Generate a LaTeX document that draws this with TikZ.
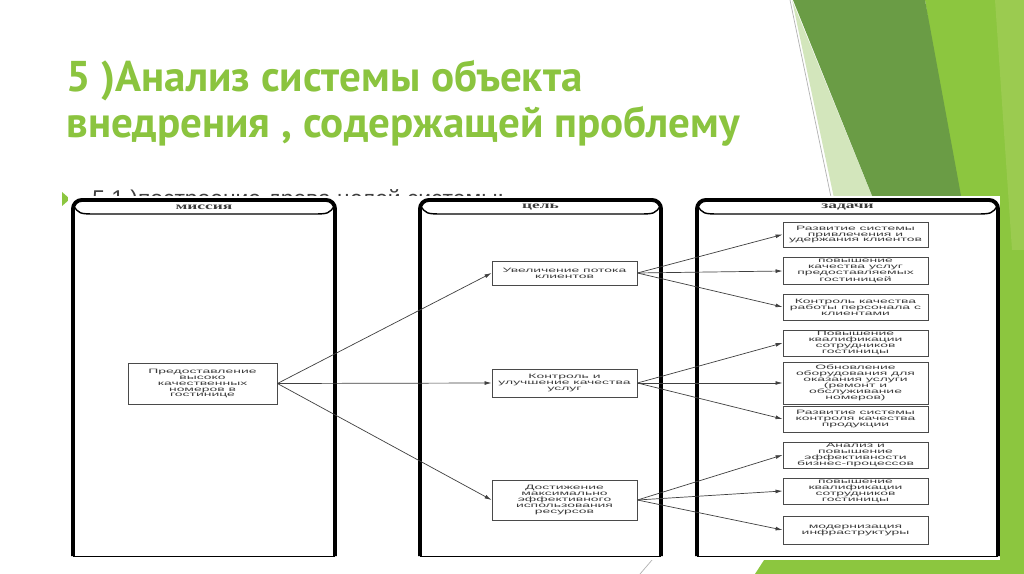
\documentclass[tikz,border=0pt]{standalone}
\usepackage{fontspec}
\setmainfont{Liberation Sans}
\newfontfamily\titlefont{PT Sans}
\newfontfamily\diagfont[FakeStretch=2.2]{Liberation Sans}
\newfontfamily\hdrfont[FakeStretch=1.8]{Liberation Serif}
\usetikzlibrary{arrows.meta,positioning}
\definecolor{titlegreen}{HTML}{8BC43F}
\definecolor{brightgreen}{HTML}{8CC63F}
\definecolor{lightgreen}{HTML}{9BCB50}
\definecolor{darkgreen}{HTML}{6A9C45}
\definecolor{palegreen}{HTML}{D3E6BC}
\definecolor{bodytext}{HTML}{404040}
\definecolor{boxtext}{HTML}{3C3C3C}
\definecolor{boxline}{HTML}{4A4A4A}

\begin{document}
\begin{tikzpicture}[x=0.02cm, y=-0.02cm,
  box/.style={draw=boxline, line width=0.5pt, minimum width=2.9cm, align=center,
              inner sep=0.5pt, font=\diagfont\fontsize{3.6}{3.4}\selectfont, text=boxtext},
  hdr/.style={font=\hdrfont\bfseries\fontsize{5.5}{5.5}\selectfont, text=boxtext, inner sep=0pt},
  colline/.style={line width=2.2pt, rounded corners=5pt},
  flarrow/.style={-{Latex[length=4pt,width=2.2pt]}, line width=0.4pt, black!75}
]
  \useasboundingbox (0,0) rectangle (1024,574);
  \fill[white] (0,0) rectangle (1024,574);

  % ── Background facets ──
  \fill[brightgreen] (925,0) -- (1024,0) -- (1024,574) -- (755,574) -- (965,250) -- cycle;
  \fill[lightgreen] (995,0) -- (1024,0) -- (1024,250) -- (1012,250) -- cycle;
  \fill[palegreen] (792,0) -- (894,250) -- (845,250) -- cycle;
  \fill[darkgreen] (793,0) -- (925,0) -- (971,250) -- (894,250) -- cycle;
  \draw[black!30, line width=0.4pt] (790,0) -- (842,250);
  \draw[black!30, line width=0.4pt] (652,560) -- (640,574);

  % ── Title ──
  \node[anchor=base west, inner sep=0, text=titlegreen,
        font=\titlefont\bfseries\fontsize{24.5}{28}\selectfont] (title1) at (66,92)
    {5 )Анализ системы объекта};
  \node[anchor=base west, inner sep=0, text=titlegreen,
        font=\titlefont\bfseries\fontsize{24.5}{28}\selectfont] (title2) at (66,138)
    {внедрения , содержащей проблему};

  % ── Bullet (mostly hidden) ──
  \fill[brightgreen] (62,192) -- (70,199) -- (62,206) -- cycle;
  \node[anchor=base west, inner sep=0, text=bodytext,
        font=\fontsize{13}{15}\selectfont] (sub) at (92,207)
    {5.1 )построение древа целей системы:};

  % ── Diagram sheet ──
  \fill[white] (68,196) rectangle (1000,560);
  \foreach \xl/\xr/\nm/\lbl in {73/335/hmission/миссия, 420/661/hgoal/цель, 697/998/htasks/задачи} {
    \draw[colline] (\xl,556) -- (\xl,200) -- (\xr,200) -- (\xr,556);
    \draw[line width=0.5pt] (\xl,556) -- (\xr,556);
    \draw[line width=0.8pt] (\xl,205) .. controls (\xl+6,214) .. (\xl+25,214)
      -- (\xr-25,214) .. controls (\xr-6,214) .. (\xr,205);
    \node[hdr] (\nm) at ({(\xl+\xr)/2},207.5) {\lbl};
  }

  % ── Mission ──
  \node[box, minimum width=2.98cm, minimum height=0.82cm] (mission) at (202.5,383.5)
    {Предоставление\\высоко\\качественных\\номеров в\\гостинице};

  % ── Goals ──
  \node[box, minimum height=0.48cm] (g1) at (564.5,273) {Увеличение потока\\клиентов};
  \node[box, minimum height=0.56cm] (g2) at (564.5,383) {Контроль и\\улучшение качества\\услуг};
  \node[box, minimum height=0.8cm] (g3) at (564.5,500)
    {Достижение\\максимально\\эффективного\\использования\\ресурсов};

  % ── Tasks ──
  \node[box, minimum height=0.5cm] (t1) at (855.5,234.5) {Развитие системы\\привлечения и\\удержания клиентов};
  \node[box, minimum height=0.52cm] (t2) at (855.5,271) {повышение\\качества услуг\\предоставляемых\\гостиницей};
  \node[box, minimum height=0.52cm] (t3) at (855.5,307) {Контроль качества\\работы персонала с\\клиентами};
  \node[box, minimum height=0.52cm] (t4) at (855.5,343) {Повышение\\квалификации\\сотрудников\\гостиницы};
  \node[box, minimum height=0.84cm] (t5) at (855.5,383)
    {Обновление\\оборудования для\\оказания услуги\\(ремонт и\\обслуживание\\номеров)};
  \node[box, minimum height=0.52cm] (t6) at (855.5,419) {Развитие системы\\контроля качества\\продукции};
  \node[box, minimum height=0.52cm] (t7) at (855.5,455) {Анализ и\\повышение\\эффективности\\бизнес-процессов};
  \node[box, minimum height=0.52cm] (t8) at (855.5,491) {повышение\\квалификации\\сотрудников\\гостиницы};
  \node[box, minimum height=0.56cm] (t9) at (855.5,530) {модернизация\\инфраструктуры};

  % Arrows
  \foreach \g in {g1,g2,g3} \draw[flarrow] (mission.east) -- (\g.west);
  \foreach \t in {t1,t2,t3} \draw[flarrow] (g1.east) -- (\t.west);
  \foreach \t in {t4,t5,t6} \draw[flarrow] (g2.east) -- (\t.west);
  \foreach \t in {t7,t8,t9} \draw[flarrow] (g3.east) -- (\t.west);
\end{tikzpicture}
\end{document}
